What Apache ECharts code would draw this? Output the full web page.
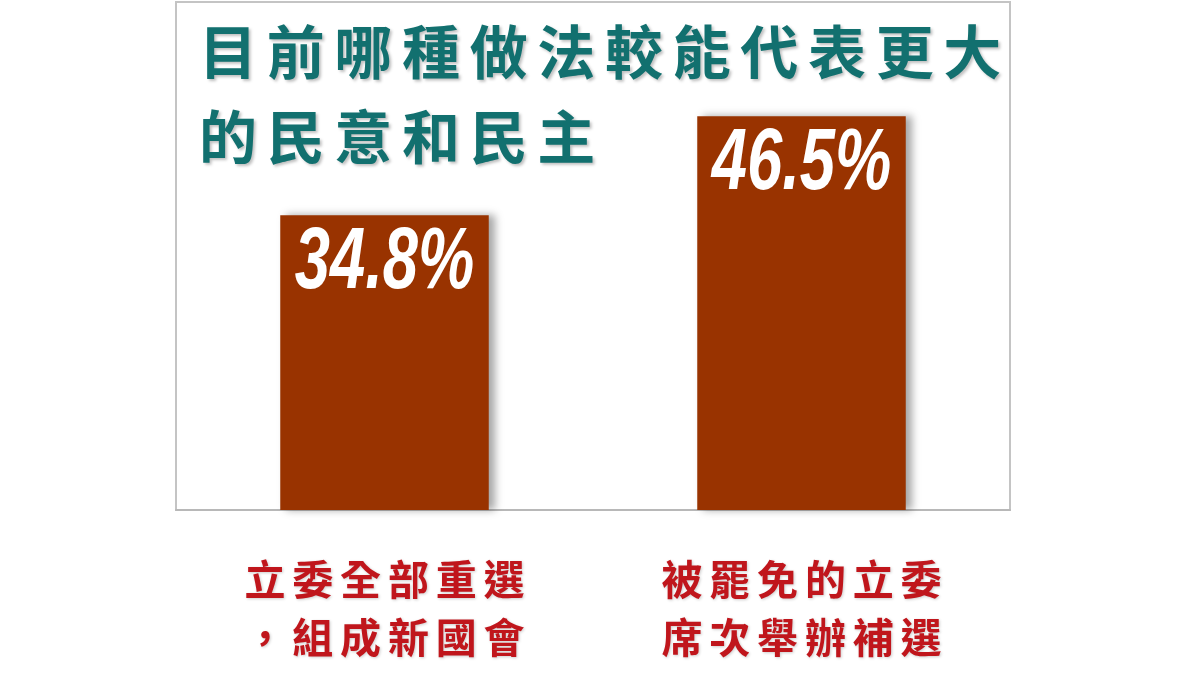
<!DOCTYPE html>
<html>
<head>
<meta charset="utf-8">
<script src="https://cdn.jsdelivr.net/npm/echarts@6/dist/echarts.min.js"></script>
<style>
	html, body { margin: 0; padding: 0; background: #fff; }
	#chart { width: 1200px; height: 675px; }
</style>
</head>
<body>
<div id="chart"></div>
<script>
var titleLines = ['目前哪種做法較能代表更大', '的民意和民主'];
var categories = [
	['立委全部重選', '，組成新國會'],
	['被罷免的立委', '席次舉辦補選']
];
var values = [34.8, 46.5];
var yMax = 60;

// spread CJK glyphs a bit, like the original slide
var gap = '\u2006';
function spread(s) {
	return s.split('').join(gap);
}

var myChart = echarts.init(document.getElementById('chart'));
var option = {
	backgroundColor: '#fff',
	animation: false,
	title: {
		text: titleLines.map(spread).join('\n'),
		left: 194,
		top: 4,
		textStyle: {
			fontFamily: 'Noto Sans CJK TC',
			fontWeight: 'bold',
			fontSize: 58,
			lineHeight: 85,
			color: '#12706f',
			textShadowColor: 'rgba(0,0,0,0.25)',
			textShadowBlur: 3,
			textShadowOffsetX: 2,
			textShadowOffsetY: 2
		}
	},
	grid: {
		left: 176,
		right: 190,
		top: 2,
		bottom: 165,
		show: true,
		borderColor: '#c4c4c4',
		borderWidth: 2
	},
	xAxis: {
		type: 'category',
		data: categories.map(function(c) { return c.join('\n'); }),
		axisTick: { show: false },
		axisLine: {
			lineStyle: { color: '#b8b8b8', width: 2 }
		},
		axisLabel: {
			margin: 40,
			formatter: function(v) {
				return v.split('\n').map(spread).join('\n');
			},
			fontFamily: 'Noto Sans CJK TC',
			fontWeight: 'bold',
			fontSize: 41,
			lineHeight: 58,
			color: '#c0161c',
			textShadowColor: 'rgba(0,0,0,0.2)',
			textShadowBlur: 3,
			textShadowOffsetX: 1,
			textShadowOffsetY: 1
		}
	},
	yAxis: {
		type: 'value',
		min: 0,
		max: yMax,
		show: false,
		splitLine: { show: false }
	},
	series: [{
		type: 'bar',
		data: values,
		barWidth: '50%',
		itemStyle: {
			color: '#993300',
			shadowColor: 'rgba(0,0,0,0.35)',
			shadowBlur: 8,
			shadowOffsetX: 6,
			shadowOffsetY: 0
		},
		label: { show: false }
	}]
};
myChart.setOption(option);

// value labels: narrow bold italic, so draw them as squeezed text at the bar tops
var labels = values.map(function(v, i) {
	var p = myChart.convertToPixel({ seriesIndex: 0 }, [i, v]);
	return {
		type: 'text',
		x: p[0],
		y: p[1] + 4,
		scaleX: 0.72,
		z: 10,
		style: {
			text: v + '%',
			align: 'center',
			verticalAlign: 'top',
			font: 'italic bold 88px "Liberation Sans", Arial, sans-serif',
			fill: '#fff',
			shadowColor: 'rgba(60,20,0,0.85)',
			shadowBlur: 3,
			shadowOffsetX: 2,
			shadowOffsetY: 2
		}
	};
});
myChart.setOption({ graphic: labels });
</script>
</body>
</html>
